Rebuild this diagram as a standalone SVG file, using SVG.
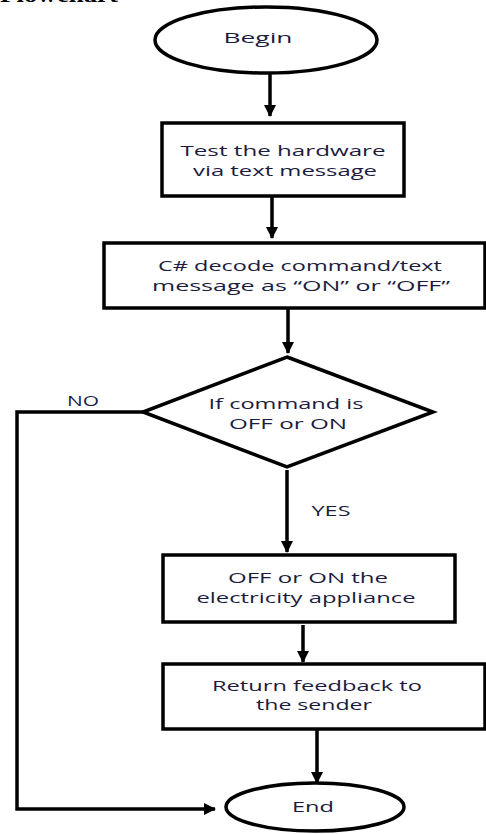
<svg xmlns="http://www.w3.org/2000/svg" width="486" height="834" viewBox="0 0 486 834">
<style>
.shape{fill:#fff;stroke:#000;stroke-width:3.5}
.t{font-family:"Open Sans","Liberation Sans",sans-serif;font-size:15px;fill:#1c1c40;text-anchor:middle}
.conn{fill:none;stroke:#000;stroke-width:3.5}
</style>
<defs>
<marker id="ah" markerUnits="userSpaceOnUse" markerWidth="12" markerHeight="12" viewBox="0 0 12 12" refX="11" refY="6" orient="auto">
<path d="M0,0 L12,6 L0,12 Z" fill="#000"/>
</marker>
</defs>
<rect width="486" height="834" fill="#fff"/>
<text x="0" y="2" font-family="Liberation Serif,serif" font-weight="bold" font-size="22" fill="#000" textLength="118" lengthAdjust="spacingAndGlyphs">Flowchart</text>
<g id="connectors">
<line class="conn" x1="270" y1="74" x2="270" y2="116" marker-end="url(#ah)"/>
<line class="conn" x1="272" y1="197" x2="272" y2="238" marker-end="url(#ah)"/>
<line class="conn" x1="288" y1="308" x2="288" y2="353" marker-end="url(#ah)"/>
<line class="conn" x1="287" y1="470" x2="287" y2="552" marker-end="url(#ah)"/>
<line class="conn" x1="303" y1="625" x2="303" y2="662" marker-end="url(#ah)"/>
<line class="conn" x1="317" y1="729" x2="317" y2="783" marker-end="url(#ah)"/>
<path class="conn" d="M143,412 H17 V809 H215" marker-end="url(#ah)"/>
<text class="t" x="83" y="406" textLength="32" lengthAdjust="spacingAndGlyphs">NO</text>
<text class="t" x="331" y="516" textLength="39" lengthAdjust="spacingAndGlyphs">YES</text>
</g>
<g id="begin">
<ellipse class="shape" cx="266" cy="40" rx="111" ry="33"/>
<text class="t" x="258" y="43" textLength="69" lengthAdjust="spacingAndGlyphs">Begin</text>
</g>
<g id="test">
<rect class="shape" x="162" y="123" width="242" height="73"/>
<text class="t" x="283" y="156" textLength="205" lengthAdjust="spacingAndGlyphs">Test the hardware</text>
<text class="t" x="285" y="176" textLength="184" lengthAdjust="spacingAndGlyphs">via text message</text>
</g>
<g id="decode">
<rect class="shape" x="104" y="243" width="381" height="65"/>
<text class="t" x="300" y="271" textLength="284" lengthAdjust="spacingAndGlyphs">C# decode command/text</text>
<text class="t" x="301" y="291" textLength="298" lengthAdjust="spacingAndGlyphs">message as “ON” or “OFF”</text>
</g>
<g id="decision">
<polygon class="shape" points="287,357 433,412 287,467 143,412" stroke-width="3"/>
<text class="t" x="286" y="409" textLength="155" lengthAdjust="spacingAndGlyphs">If command is</text>
<text class="t" x="288" y="429" textLength="118" lengthAdjust="spacingAndGlyphs">OFF or ON</text>
</g>
<g id="switch">
<rect class="shape" x="163" y="555" width="292" height="67"/>
<text class="t" x="308" y="583" textLength="160" lengthAdjust="spacingAndGlyphs">OFF or ON the</text>
<text class="t" x="306" y="603" textLength="219" lengthAdjust="spacingAndGlyphs">electricity appliance</text>
</g>
<g id="feedback">
<rect class="shape" x="163" y="664" width="322" height="65"/>
<text class="t" x="317" y="691" textLength="210" lengthAdjust="spacingAndGlyphs">Return feedback to</text>
<text class="t" x="314" y="710" textLength="116" lengthAdjust="spacingAndGlyphs">the sender</text>
</g>
<g id="end">
<ellipse class="shape" cx="315" cy="807" rx="89" ry="24"/>
<text class="t" x="313" y="812" textLength="42" lengthAdjust="spacingAndGlyphs">End</text>
</g>
</svg>
